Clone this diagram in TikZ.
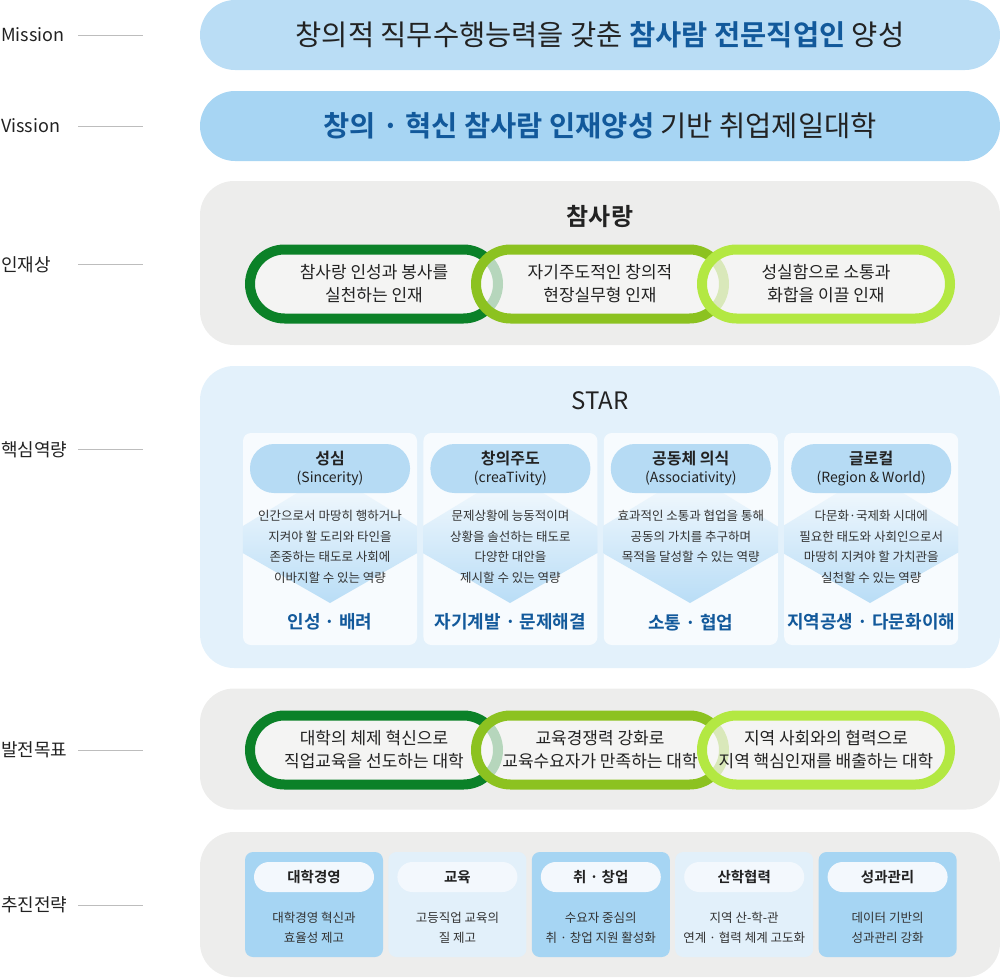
\documentclass[tikz,border=0pt]{standalone}
\usepackage{fontspec}
\setmainfont{Noto Sans CJK KR}[BoldFont={Noto Sans CJK KR Bold}]
\usetikzlibrary{positioning}

\definecolor{ink}{HTML}{222222}
\definecolor{bodyc}{HTML}{333333}
\definecolor{hl}{HTML}{12599B}
\definecolor{missionbg}{HTML}{BADDF5}
\definecolor{visionbg}{HTML}{A7D5F3}
\definecolor{panelgray}{HTML}{EDEDEC}
\definecolor{starbg}{HTML}{E3F1FB}
\definecolor{cardbg}{HTML}{F7FBFE}
\definecolor{pillbg}{HTML}{B6DBF4}
\definecolor{diamondbg}{HTML}{B9DDF6}
\definecolor{ringA}{HTML}{0B8128}
\definecolor{ringB}{HTML}{8CC220}
\definecolor{ringC}{HTML}{B3E842}
\definecolor{ringin}{HTML}{F8F8F6}
\definecolor{tblue}{HTML}{A6D5F3}
\definecolor{tlight}{HTML}{E2F0FA}
\definecolor{tpillbg}{HTML}{F3F8FD}
\definecolor{tickgray}{HTML}{BDBDBD}

\newcommand{\pxfont}[2]{\fontsize{#1}{#2}\selectfont}

\begin{document}
\begin{tikzpicture}[
        x=1pt, y=-1pt,
        sidelab/.style={anchor=west, inner sep=0pt, font=\pxfont{18}{22}, text=ink},
        tick/.style={draw=tickgray, line width=0.8pt},
        bar/.style={rectangle, rounded corners=35pt, minimum width=800pt, minimum height=70pt, inner sep=0pt, font=\pxfont{28.5}{32}, text=ink},
        panel/.style={rectangle, rounded corners=34pt, minimum width=800pt, inner sep=0pt},
        ring/.style={rectangle, rounded corners=34.5pt, minimum width=248pt, minimum height=69pt, line width=10pt, fill=ringin, fill opacity=0.72, text opacity=1, align=center, inner sep=0pt, font=\pxfont{17}{23}, text=ink},
        card/.style={rectangle, rounded corners=8pt, minimum width=174pt, minimum height=212pt, fill=cardbg, inner sep=0pt},
        chev/.style={top color=cardbg, middle color=cardbg!90!diamondbg, bottom color=diamondbg},
        pill/.style={rectangle, rounded corners=24pt, minimum width=160pt, minimum height=49pt, fill=pillbg, align=center, inner sep=0pt, font=\pxfont{14}{18}, text=ink},
        body/.style={anchor=north, align=center, inner sep=0pt, font=\pxfont{12.5}{20.5}, text=bodyc},
        kw/.style={inner sep=0pt, font=\bfseries\pxfont{18}{22}, text=hl},
        tcard/.style={rectangle, rounded corners=8pt, minimum width=138pt, minimum height=105pt, inner sep=0pt},
        tpill/.style={rectangle, rounded corners=15pt, minimum width=120pt, minimum height=30pt, fill=tpillbg, inner sep=0pt, font=\bfseries\pxfont{14.5}{18}, text=ink},
        tbody/.style={align=center, inner sep=0pt, font=\pxfont{12.5}{20}, text=bodyc},
        node distance=6pt
        ]
        \useasboundingbox (0,0) rectangle (1000,977);

        % side labels
        \node[sidelab] (labmis)   at (1,35)  {Mission};
        \node[sidelab] (labvis)   at (1,126) {Vission};
        \node[sidelab] (labppl)   at (1,265) {인재상};
        \node[sidelab] (labcore)  at (1,450) {핵심역량};
        \node[sidelab] (labgoal)  at (1,750) {발전목표};
        \node[sidelab] (labstrat) at (1,905) {추진전략};
        \coordinate (mis-a) at (78,35);    \coordinate (mis-b) at (143,35);
        \coordinate (vis-a) at (78,126);   \coordinate (vis-b) at (143,126);
        \coordinate (ppl-a) at (78,264);   \coordinate (ppl-b) at (143,264);
        \coordinate (core-a) at (78,449);  \coordinate (core-b) at (143,449);
        \coordinate (goal-a) at (78,750);  \coordinate (goal-b) at (143,750);
        \coordinate (strat-a) at (78,905); \coordinate (strat-b) at (143,905);
        \draw[tick] (mis-a) -- (mis-b);
        \draw[tick] (vis-a) -- (vis-b);
        \draw[tick] (ppl-a) -- (ppl-b);
        \draw[tick] (core-a) -- (core-b);
        \draw[tick] (goal-a) -- (goal-b);
        \draw[tick] (strat-a) -- (strat-b);

        % mission / vision
        \node[bar, fill=missionbg] (mission) at (600,35) {창의적 직무수행능력을 갖춘 {\color{hl}\bfseries 참사람 전문직업인} 양성};
        \node[bar, fill=visionbg]  (vision)  at (600,126) {{\color{hl}\bfseries 창의 · 혁신 참사람 인재양성} 기반 취업제일대학};

        % 인재상
        \node[panel, fill=panelgray, minimum height=164pt] (pplpanel) at (600,263) {};
        \node[font=\bfseries\pxfont{24}{28}, text=ink] (ppltitle) at (600,216) {참사랑};
        \node[ring, draw=ringA] (ppl1) at (374,284) {참사랑 인성과 봉사를\\실천하는 인재};
        \node[ring, draw=ringB, right=-32pt of ppl1] (ppl2) {자기주도적인 창의적\\현장실무형 인재};
        \node[ring, draw=ringC, right=-32pt of ppl2] (ppl3) {성실함으로 소통과\\화합을 이끌 인재};

        % 핵심역량
        \node[panel, fill=starbg, minimum height=302pt] (starpanel) at (600,517) {};
        \node[font=\pxfont{24}{28}, text=ink] (startitle) at (600,401) {STAR};
        \node[card] (c1) at (330,539) {};
        \node[card, right=of c1] (c2) {};
        \node[card, right=of c2] (c3) {};
        \node[card, right=of c3] (c4) {};
        \begin{scope}
            \clip[rounded corners=8pt] (c1.south west) rectangle (c1.north east);
            \shade[chev] (330,473) -- (440,540) -- (330,603) -- (220,540) -- cycle;
        \end{scope}
        \begin{scope}
            \clip[rounded corners=8pt] (c2.south west) rectangle (c2.north east);
            \shade[chev] (510,473) -- (620,540) -- (510,603) -- (400,540) -- cycle;
        \end{scope}
        \begin{scope}
            \clip[rounded corners=8pt] (c3.south west) rectangle (c3.north east);
            \shade[chev] (690,473) -- (800,540) -- (690,603) -- (580,540) -- cycle;
        \end{scope}
        \begin{scope}
            \clip[rounded corners=8pt] (c4.south west) rectangle (c4.north east);
            \shade[chev] (870,473) -- (980,540) -- (870,603) -- (760,540) -- cycle;
        \end{scope}
        \node[pill, below=11pt of c1.north] (p1) {{\bfseries\pxfont{16}{18}성심}\\(Sincerity)};
        \node[pill, below=11pt of c2.north] (p2) {{\bfseries\pxfont{16}{18}창의주도}\\(creaTivity)};
        \node[pill, below=11pt of c3.north] (p3) {{\bfseries\pxfont{16}{18}공동체 의식}\\(Associativity)};
        \node[pill, below=11pt of c4.north] (p4) {{\bfseries\pxfont{16}{18}글로컬}\\(Region \& World)};
        \node[body, below=17pt of p1.south] (b1) {인간으로서 마땅히 행하거나\\지켜야 할 도리와 타인을\\존중하는 태도로 사회에\\이바지할 수 있는 역량};
        \node[body, below=17pt of p2.south] (b2) {문제상황에 능동적이며\\상황을 솔선하는 태도로\\다양한 대안을\\제시할 수 있는 역량};
        \node[body, below=17pt of p3.south] (b3) {효과적인 소통과 협업을 통해\\공동의 가치를 추구하며\\목적을 달성할 수 있는 역량};
        \node[body, below=17pt of p4.south] (b4) {다문화·국제화 시대에\\필요한 태도와 사회인으로서\\마땅히 지켜야 할 가치관을\\실천할 수 있는 역량};
        \node[kw] (k1) at ([yshift=23pt]c1.south) {인성 · 배려};
        \node[kw] (k2) at ([yshift=23pt]c2.south) {자기계발 · 문제해결};
        \node[kw] (k3) at ([yshift=23pt]c3.south) {소통 · 협업};
        \node[kw] (k4) at ([yshift=23pt]c4.south) {지역공생 · 다문화이해};

        % 발전목표
        \node[panel, fill=panelgray, minimum height=121pt] (goalpanel) at (600,749) {};
        \node[ring, draw=ringA] (g1) at (374,750) {대학의 체제 혁신으로\\직업교육을 선도하는 대학};
        \node[ring, draw=ringB, right=-32pt of g1] (g2) {교육경쟁력 강화로\\교육수요자가 만족하는 대학};
        \node[ring, draw=ringC, right=-32pt of g2] (g3) {지역 사회와의 협력으로\\지역 핵심인재를 배출하는 대학};

        % 추진전략
        \node[panel, fill=panelgray, minimum height=145pt] (stratpanel) at (600,904.5) {};
        \node[tcard, fill=tblue] (t1) at (314,904.5) {};
        \node[tcard, fill=tlight, right=5pt of t1] (t2) {};
        \node[tcard, fill=tblue, right=5pt of t2] (t3) {};
        \node[tcard, fill=tlight, right=5pt of t3] (t4) {};
        \node[tcard, fill=tblue, right=5pt of t4] (t5) {};
        \node[tpill, below=10pt of t1.north] (tp1) {대학경영};
        \node[tpill, below=10pt of t2.north] (tp2) {교육};
        \node[tpill, below=10pt of t3.north] (tp3) {취 · 창업};
        \node[tpill, below=10pt of t4.north] (tp4) {산학협력};
        \node[tpill, below=10pt of t5.north] (tp5) {성과관리};
        \node[tbody] (tb1) at ([yshift=-23.5pt]t1.center) {대학경영 혁신과\\효율성 제고};
        \node[tbody] (tb2) at ([yshift=-23.5pt]t2.center) {고등직업 교육의\\질 제고};
        \node[tbody] (tb3) at ([yshift=-23.5pt]t3.center) {수요자 중심의\\취 · 창업 지원 활성화};
        \node[tbody] (tb4) at ([yshift=-23.5pt]t4.center) {지역 산-학-관\\연계 · 협력 체계 고도화};
        \node[tbody] (tb5) at ([yshift=-23.5pt]t5.center) {데이터 기반의\\성과관리 강화};
    \end{tikzpicture}
\end{document}
